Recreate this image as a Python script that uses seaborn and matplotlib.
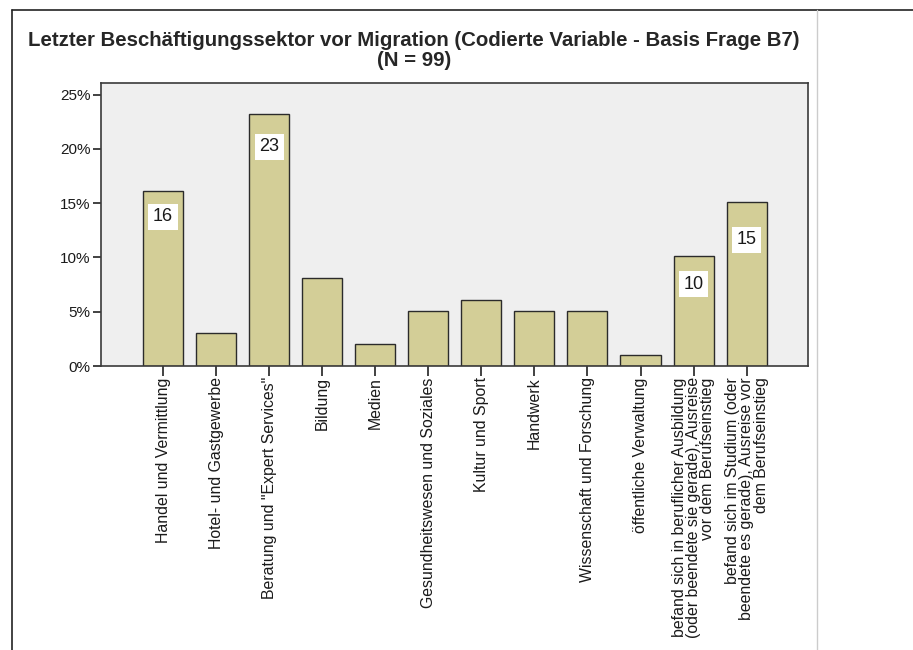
import matplotlib
matplotlib.use("Agg")
import matplotlib.pyplot as plt
import seaborn as sns
import numpy as np
from matplotlib.lines import Line2D
from matplotlib.ticker import PercentFormatter

# Letzter Beschäftigungssektor vor Migration, Häufigkeiten (N = 99)
sektoren = [
    "Handel und Vermittlung",
    "Hotel- und Gastgewerbe",
    "Beratung und \"Expert Services\"",
    "Bildung",
    "Medien",
    "Gesundheitswesen und Soziales",
    "Kultur und Sport",
    "Handwerk",
    "Wissenschaft und Forschung",
    "öffentliche Verwaltung",
    "befand sich in beruflicher Ausbildung\n(oder beendete sie gerade), Ausreise\nvor dem Berufseinstieg",
    "befand sich im Studium (oder\nbeendete es gerade), Ausreise vor\ndem Berufseinstieg",
]
anzahl = [16, 3, 23, 8, 2, 5, 6, 5, 5, 1, 10, 15]
n_gesamt = 99
prozent = [a / n_gesamt * 100 for a in anzahl]
mit_label = [True, False, True, False, False, False, False, False, False, False, True, True]

sns.set_style("white")
plt.rcParams["font.family"] = ["Liberation Sans", "DejaVu Sans"]

fig = plt.figure(figsize=(9.13, 6.5), dpi=100)
ax = fig.add_axes([0.1103, 0.4369, 0.7747, 0.4354])
ax.set_facecolor("#EFEFEF")

sns.barplot(x=list(range(len(sektoren))), y=prozent, color="#D3CE97",
            edgecolor="#2b2b2b", linewidth=1.0, width=0.755, saturation=1,
            ax=ax)

ax.set_xlim(-1.175, 11 + 1.157)
ax.set_ylim(0, 26.08)
ax.set_yticks([0, 5, 10, 15, 20, 25])
ax.yaxis.set_major_formatter(PercentFormatter(decimals=0))
ax.set_xticks(range(len(sektoren)))
ax.set_xticklabels(sektoren, rotation=90, fontsize=11.4, ha="center",
                   va="top", multialignment="right", color="#1a1a1a",
                   linespacing=0.95)
ax.tick_params(axis="y", labelsize=11, length=6, width=1.3, color="#333333",
               pad=1.5, labelcolor="#1a1a1a", left=True)
ax.tick_params(axis="x", length=7, width=1.3, color="#333333", pad=1,
               bottom=True)
ax.set_xlabel("")
ax.set_ylabel("")
for s in ax.spines.values():
    s.set_color("#3a3a3a")
    s.set_linewidth(1.2)
    s.set_visible(True)

# Werte-Labels (weiße Kästchen) nur für größere Balken
label_drop = [26, 33, 28, 38]
k = 0
for i, (p, a) in enumerate(zip(prozent, anzahl)):
    if mit_label[i]:
        ax.annotate(str(a), xy=(i, p), xytext=(0, -label_drop[k] * 0.72),
                    textcoords="offset points", ha="center", va="center",
                    fontsize=13, color="#1a1a1a",
                    bbox=dict(boxstyle="square,pad=0.25", fc="white", ec="none"))
        k += 1

fig.text(414 / 913, 1 - 40 / 650,
         "Letzter Beschäftigungssektor vor Migration (Codierte Variable - Basis Frage B7)",
         ha="center", va="center", fontsize=14.7, fontweight="bold")
fig.text(414 / 913, 1 - 60 / 650, "(N = 99)",
         ha="center", va="center", fontsize=14.7, fontweight="bold")

# Rahmen wie im SPSS-Viewer
fig.add_artist(Line2D([12 / 913, 1], [1 - 10 / 650, 1 - 10 / 650],
                      transform=fig.transFigure, color="#222222", lw=1.2))
fig.add_artist(Line2D([12 / 913, 12 / 913], [0, 1 - 10 / 650],
                      transform=fig.transFigure, color="#222222", lw=1.2))
fig.add_artist(Line2D([817 / 913, 817 / 913], [0, 1 - 10 / 650],
                      transform=fig.transFigure, color="#cccccc", lw=1.0))

fig.savefig("out.png", dpi=100)
